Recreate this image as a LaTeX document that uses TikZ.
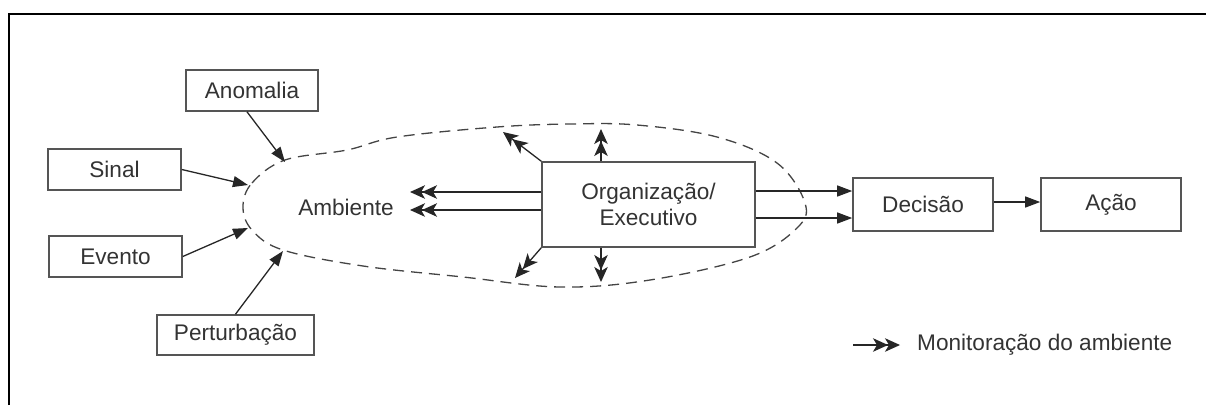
\documentclass[tikz,border=0pt]{standalone}
\usepackage{fontspec}
\setmainfont{Liberation Sans}
\usetikzlibrary{arrows.meta}
\definecolor{txt}{HTML}{333333}
\definecolor{boxc}{HTML}{555555}
\definecolor{dashc}{HTML}{444444}
\tikzset{
  box/.style={draw=boxc, line width=1.6pt, text=txt, inner sep=0pt, font=\fontsize{22.6}{26}\selectfont, align=center},
  arr/.style={draw=black!85, line width=1.3pt, -{Triangle[length=15pt,width=11pt]}},
  mon/.style={draw=black!85, line width=1.3pt, -{Stealth[length=15pt,width=13.5pt,inset=4pt,sep=-3pt]Stealth[length=15pt,width=13.5pt,inset=4pt]}},
  lbl/.style={text=txt, font=\fontsize{22.6}{26}\selectfont, inner sep=0pt}
}
\begin{document}
\begin{tikzpicture}[x=1pt,y=-1pt]
\useasboundingbox (0,0) rectangle (1206,405);
% frame
\draw[line width=2.4pt] (9,405) -- (9,14) -- (1206,14);
% environment outline
\draw[dashc, line width=1.3pt, dash pattern=on 11pt off 7pt]
  plot[smooth cycle, tension=0.6] coordinates {
  (243,207) (252,183) (285,160) (347,150) (397,137) (497,127) (570,124) (637,125)
  (717,137) (777,163) (805,203) (797,228) (750,257) (650,280) (560,287) (463,277)
  (363,266) (283,250) (252,230)};
% boxes
\node[box, minimum width=132pt, minimum height=41pt] (anom) at (252,90.5) {Anomalia};
\node[box, minimum width=133pt, minimum height=41pt] (sinal) at (114.5,169.5) {Sinal};
\node[box, minimum width=133pt, minimum height=41pt] (evento) at (115.5,256.5) {Evento};
\node[box, minimum width=157pt, minimum height=40pt] (pert) at (235.5,335) {Perturbação};
\node[box, minimum width=213pt, minimum height=85pt, fill=white] (org) at (648.5,204.5) {Organização/\\Executivo};
\node[box, minimum width=140pt, minimum height=53pt] (dec) at (923,204.5) {Decisão};
\node[box, minimum width=140pt, minimum height=53pt] (acao) at (1111,204.5) {Ação};
\node[lbl] (amb) at (346,207) {Ambiente};
% input arrow ends
\coordinate (eA) at (285,162);
\coordinate (eS) at (248,185);
\coordinate (eE) at (248,228);
\coordinate (eP) at (283,251);
\draw[arr] ([xshift=-5pt]anom.south) -- (eA);
\draw[arr] (sinal.east) -- (eS);
\draw[arr] (evento.east) -- (eE);
\draw[arr] (pert.north) -- (eP);
% monitoring arrows
\coordinate (mL1) at (410,192);
\coordinate (mL2) at (410,210);
\coordinate (mUL) at (503,132);
\coordinate (mU) at (601,129);
\coordinate (mDL) at (515,278);
\coordinate (mD) at (601,282);
\draw[mon] ([yshift=12.5pt]org.west) -- (mL1);
\draw[mon] ([yshift=-5.5pt]org.west) -- (mL2);
\draw[mon] (org.north west) -- (mUL);
\draw[mon] ([xshift=-47.5pt]org.north) -- (mU);
\draw[mon] (org.south west) -- (mDL);
\draw[mon] ([xshift=-47.5pt]org.south) -- (mD);
% decision flow
\draw[arr] ([yshift=13.5pt]org.east) -- ([yshift=13.5pt]dec.west);
\draw[arr] ([yshift=-13.5pt]org.east) -- ([yshift=-13.5pt]dec.west);
\draw[arr] ([yshift=2.5pt]dec.east) -- ([yshift=2.5pt]acao.west);
% legend
\coordinate (legA) at (853,345);
\coordinate (legB) at (900,345);
\draw[mon] (legA) -- (legB);
\node[lbl, anchor=west] (legT) at (917,345) {Monitoração do ambiente};
\end{tikzpicture}
\end{document}
